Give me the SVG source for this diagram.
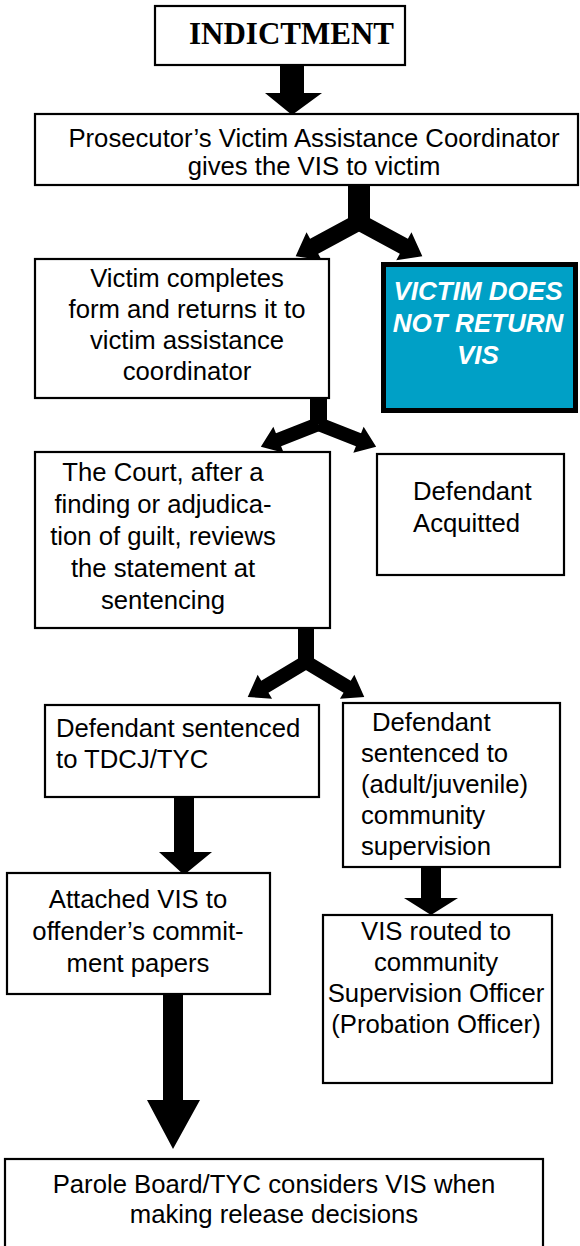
<svg xmlns="http://www.w3.org/2000/svg" width="580" height="1246" viewBox="0 0 580 1246">
<style>
.box{fill:#fff;stroke:#000;stroke-width:2.2}
.t{font-family:"Liberation Sans",Arial,sans-serif;font-size:25.7px;fill:#000}
.c{text-anchor:middle}
.blue{fill:#00a0c6;stroke:#000;stroke-width:5}
.bt{font-family:"Liberation Sans",Arial,sans-serif;font-size:26px;font-weight:bold;font-style:italic;fill:#fff;text-anchor:middle}
.a{fill:#000}
</style>
<g id="connectors">
  <path class="a" d="M280,65 H304 V93 H322 L292,115 L265,93 H280 Z"/>
  <rect class="a" x="348" y="185" width="22" height="37"/>
  <g transform="translate(359,222) rotate(151.6)"><path class="a" d="M0,-8.5 H51 V-16 L72,0 L51,16 V8.5 H0 Z"/></g>
  <g transform="translate(359,222) rotate(28.4)"><path class="a" d="M0,-8.5 H51 V-16 L72,0 L51,16 V8.5 H0 Z"/></g>
  <rect class="a" x="310" y="398" width="17" height="26"/>
  <g transform="translate(318.5,424) rotate(158.4)"><path class="a" d="M0,-7 H43 V-14 L62,0 L43,14 V7 H0 Z"/></g>
  <g transform="translate(318.5,424) rotate(21.6)"><path class="a" d="M0,-7 H43 V-14 L62,0 L43,14 V7 H0 Z"/></g>
  <rect class="a" x="298" y="627" width="16" height="35"/>
  <g transform="translate(306,662) rotate(149)"><path class="a" d="M0,-7 H48 V-14 L68,0 L48,14 V7 H0 Z"/></g>
  <g transform="translate(306,662) rotate(31)"><path class="a" d="M0,-7 H48 V-14 L68,0 L48,14 V7 H0 Z"/></g>
  <path class="a" d="M174,796 H194 V852 H212 L184,875 L159,852 H174 Z"/>
  <path class="a" d="M421,860 H441 V898 H458 L431,915 L404,898 H421 Z"/>
  <path class="a" d="M163,994 H183 V1100 H200 L173,1149 L147,1100 H163 Z"/>
</g>
<g id="indictment">
  <rect class="box" x="155" y="6" width="250" height="59"/>
  <text x="189" y="44" font-family="'Liberation Serif','Times New Roman',serif" font-size="31" font-weight="bold">INDICTMENT</text>
</g>
<g id="prosecutor">
  <rect class="box" x="35" y="114" width="543" height="71"/>
  <text class="t c" x="314" y="147">Prosecutor’s Victim Assistance Coordinator</text>
  <text class="t c" x="314" y="175">gives the VIS to victim</text>
</g>
<g id="victim-completes">
  <rect class="box" x="35" y="259" width="294" height="139"/>
  <text class="t c" x="187" y="287">Victim completes</text>
  <text class="t c" x="187" y="318">form and returns it to</text>
  <text class="t c" x="187" y="349">victim assistance</text>
  <text class="t c" x="187" y="380">coordinator</text>
</g>
<g id="victim-not-return">
  <rect class="blue" x="383.5" y="264.5" width="192" height="146"/>
  <text class="bt" x="478" y="300">VICTIM DOES</text>
  <text class="bt" x="478" y="332">NOT RETURN</text>
  <text class="bt" x="478" y="364">VIS</text>
</g>
<g id="court">
  <rect class="box" x="35" y="452" width="295" height="176"/>
  <text class="t c" x="163" y="481">The Court, after a</text>
  <text class="t c" x="163" y="513">finding or adjudica-</text>
  <text class="t c" x="163" y="545">tion of guilt, reviews</text>
  <text class="t c" x="163" y="577">the statement at</text>
  <text class="t c" x="163" y="609">sentencing</text>
</g>
<g id="acquitted">
  <rect class="box" x="377" y="454" width="187" height="121"/>
  <text class="t" x="413" y="500">Defendant</text>
  <text class="t" x="413" y="532">Acquitted</text>
</g>
<g id="tdcj">
  <rect class="box" x="45" y="705" width="274" height="92"/>
  <text class="t" x="56" y="737">Defendant sentenced</text>
  <text class="t" x="56" y="768">to TDCJ/TYC</text>
</g>
<g id="community-supervision">
  <rect class="box" x="343" y="703" width="217" height="164"/>
  <text class="t" x="372" y="731">Defendant</text>
  <text class="t" x="361" y="762">sentenced to</text>
  <text class="t" x="361" y="793">(adult/juvenile)</text>
  <text class="t" x="361" y="824">community</text>
  <text class="t" x="361" y="855">supervision</text>
</g>
<g id="attached">
  <rect class="box" x="7" y="873" width="263" height="121"/>
  <text class="t c" x="138" y="908">Attached VIS to</text>
  <text class="t c" x="138" y="940">offender’s commit-</text>
  <text class="t c" x="138" y="972">ment papers</text>
</g>
<g id="vis-routed">
  <rect class="box" x="323" y="915" width="229" height="168"/>
  <text class="t c" x="436" y="940">VIS routed to</text>
  <text class="t c" x="436" y="971">community</text>
  <text class="t c" x="436" y="1002">Supervision Officer</text>
  <text class="t c" x="436" y="1033">(Probation Officer)</text>
</g>
<g id="parole">
  <rect class="box" x="5" y="1159" width="538" height="100"/>
  <text class="t c" x="274" y="1193">Parole Board/TYC considers VIS when</text>
  <text class="t c" x="274" y="1223">making release decisions</text>
</g>
</svg>
